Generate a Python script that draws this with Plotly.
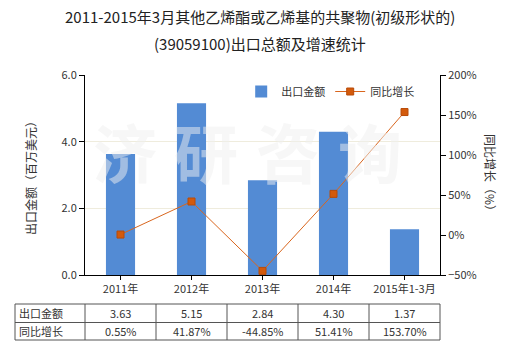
import plotly.graph_objects as go

# Export data, 2011 to Q1 2015
categories = ["2011年", "2012年", "2013年", "2014年", "2015年1-3月"]
export_value = [3.63, 5.15, 2.84, 4.30, 1.37]          # million USD
yoy_growth = [0.55, 41.87, -44.85, 51.41, 153.70]       # percent

bar_name = "出口金额"
line_name = "同比增长"
left_title = "出口金额（百万美元）"
right_title = "同比增长（%）"
title_lines = ["2011-2015年3月其他乙烯酯或乙烯基的共聚物(初级形状的)",
               "(39059100)出口总额及增速统计"]

FONT = "Noto Sans CJK SC, Microsoft YaHei, sans-serif"
BAR_COLOR = "#538bd4"
LINE_COLOR = "#d9661e"
TEXT = "#333333"

# Plot area in pixels: x 85..440, y 75..275
L, R, T, B = 85, 440, 75, 275
def px_x(p):
    return (p - L) / (R - L)
def px_y(p):
    return (B - p) / (B - T)

fig = go.Figure()

# Faint watermark characters (drawn first so they sit under the legend)
for ch, px in zip("济研咨询", [125, 206, 288, 370]):
    fig.add_annotation(
        text=f"<b>{ch}</b>", xref="paper", yref="paper",
        x=px_x(px), y=px_y(150),
        showarrow=False, xanchor="center", yanchor="middle",
        font=dict(family=FONT, size=64, color="rgba(240,240,240,0.5)"),
    )

fig.add_trace(go.Bar(
    x=categories, y=export_value, name=bar_name,
    marker=dict(color=BAR_COLOR, line=dict(width=0)),
    yaxis="y",
))
fig.add_trace(go.Scatter(
    x=categories, y=yoy_growth, name=line_name, mode="lines+markers",
    line=dict(color=LINE_COLOR, width=1),
    marker=dict(symbol="square", size=7, color="#d35a0c",
                line=dict(color="#b84a08", width=1)),
    yaxis="y2",
))

# Two-line title
for line, py in zip(title_lines, [17, 43]):
    fig.add_annotation(text=line, xref="paper", yref="paper",
                       x=px_x(260), y=px_y(py), xanchor="center", yanchor="middle",
                       showarrow=False, font=dict(family=FONT, size=15, color="#222222"))

# Axis titles
fig.add_annotation(text=left_title, xref="paper", yref="paper",
                   x=px_x(30), y=px_y(175), xanchor="center", yanchor="middle",
                   textangle=-90, showarrow=False,
                   font=dict(family=FONT, size=12, color=TEXT))
fig.add_annotation(text=right_title, xref="paper", yref="paper",
                   x=px_x(491), y=px_y(175), xanchor="center", yanchor="middle",
                   textangle=90, showarrow=False,
                   font=dict(family=FONT, size=12, color=TEXT))

# Data table beneath the plot
n = len(categories)
left_edge = px_x(15)
row_top, row_mid, row_bot = px_y(304), px_y(322.5), px_y(340)
border = dict(color="#555555", width=1)
for yv in (row_top, row_mid, row_bot):
    fig.add_shape(type="line", xref="paper", yref="paper",
                  x0=left_edge, x1=1, y0=yv, y1=yv, line=border)
for xv in [left_edge] + [k / n for k in range(n + 1)]:
    fig.add_shape(type="line", xref="paper", yref="paper",
                  x0=xv, x1=xv, y0=row_top, y1=row_bot, line=border)

row_labels = [bar_name, line_name]
row_texts = [[f"{v:.2f}" for v in export_value],
             [f"{v:.2f}%" for v in yoy_growth]]
row_centers = [(row_top + row_mid) / 2, (row_mid + row_bot) / 2]
for label, texts, yc in zip(row_labels, row_texts, row_centers):
    fig.add_annotation(text=label, xref="paper", yref="paper",
                       x=left_edge + 0.006, y=yc, xanchor="left", yanchor="middle",
                       showarrow=False, font=dict(family=FONT, size=11, color=TEXT))
    for cat, t in zip(categories, texts):
        fig.add_annotation(text=t, xref="x", yref="paper", x=cat, y=yc,
                           xanchor="center", yanchor="middle", showarrow=False,
                           font=dict(family=FONT, size=11, color=TEXT))

fig.update_layout(
    width=520, height=350,
    margin=dict(l=L, r=520 - R, t=T, b=350 - B),
    paper_bgcolor="white", plot_bgcolor="white",
    font=dict(family=FONT, size=11, color=TEXT),
    bargap=0.59,
    showlegend=True,
    legend=dict(orientation="h", x=0.44, y=0.99, xanchor="left", yanchor="top",
                bgcolor="rgba(0,0,0,0)", font=dict(family=FONT, size=11, color=TEXT),
                itemwidth=30, tracegroupgap=0),
    xaxis=dict(range=[-0.5, n - 0.5], showline=True, linecolor="black", linewidth=1,
               ticks="outside", ticklen=4, tickcolor="black",
               tickfont=dict(family=FONT, size=11, color=TEXT),
               showgrid=False, zeroline=False),
    yaxis=dict(range=[0, 6], dtick=2, tickformat=".1f",
               showline=True, linecolor="black", linewidth=1,
               ticks="outside", ticklen=5, tickcolor="black",
               showgrid=True, gridcolor="#efecdd", gridwidth=1, zeroline=False,
               tickfont=dict(family=FONT, size=11, color=TEXT)),
    yaxis2=dict(range=[-50, 200], dtick=50, ticksuffix="%", overlaying="y", side="right",
                showline=True, linecolor="black", linewidth=1,
                ticks="outside", ticklen=5, tickcolor="black",
                showgrid=False, zeroline=False,
                tickfont=dict(family=FONT, size=11, color=TEXT)),
)

fig.write_html("out.html")
